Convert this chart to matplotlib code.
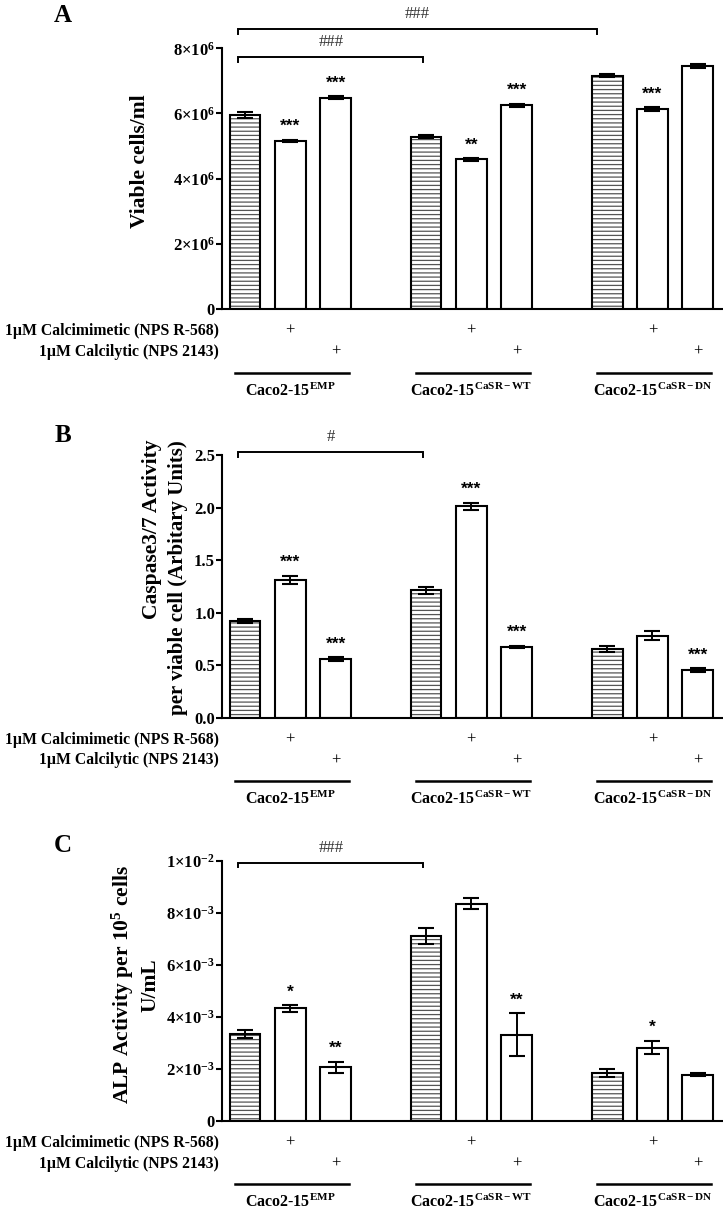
import matplotlib
matplotlib.use("Agg")
import matplotlib.pyplot as plt
import matplotlib.transforms as mtransforms
from matplotlib.ticker import FixedLocator, FixedFormatter

plt.rcParams['font.family'] = ['Liberation Serif', 'DejaVu Serif']
plt.rcParams['mathtext.fontset'] = 'custom'
plt.rcParams['mathtext.rm'] = 'Liberation Serif'
plt.rcParams['mathtext.bf'] = 'Liberation Serif:bold'
plt.rcParams['mathtext.it'] = 'Liberation Serif:italic'
plt.rcParams['hatch.linewidth'] = 0.9

# ---------------- data ----------------
groups = ["Caco2-15$^{\\mathbf{EMP}}$", "Caco2-15$^{\\mathbf{CaSR-WT}}$", "Caco2-15$^{\\mathbf{CaSR-DN}}$"]
conditions = ["control", "calcimimetic", "calcilytic"]
calcimimetic_row = ["", "+", ""]
calcilytic_row = ["", "", "+"]
row_labels = ["1\u00b5M Calcimimetic (NPS R-568)", "1\u00b5M Calcilytic (NPS 2143)"]

viable = [5.96e6, 5.15e6, 6.48e6, 5.29e6, 4.59e6, 6.25e6, 7.16e6, 6.14e6, 7.46e6]
viable_err = [0.10e6, 0.04e6, 0.05e6, 0.04e6, 0.04e6, 0.05e6, 0.05e6, 0.05e6, 0.07e6]
viable_stars = ["", "***", "***", "", "**", "***", "", "***", ""]

caspase = [0.92, 1.31, 0.557, 1.21, 2.01, 0.675, 0.65, 0.78, 0.452]
caspase_err = [0.02, 0.04, 0.015, 0.037, 0.035, 0.01, 0.03, 0.04, 0.015]
caspase_stars = ["", "***", "***", "", "***", "***", "", "", "***"]

alp = [3.33e-3, 4.32e-3, 2.05e-3, 7.10e-3, 8.35e-3, 3.31e-3, 1.83e-3, 2.81e-3, 1.77e-3]
alp_err = [0.15e-3, 0.13e-3, 0.22e-3, 0.32e-3, 0.20e-3, 0.83e-3, 0.15e-3, 0.26e-3, 0.05e-3]
alp_stars = ["", "*", "**", "", "", "**", "", "*", ""]

ticks_A = [0, 2e6, 4e6, 6e6, 8e6]
ticklabels_A = ["0", r"$\mathbf{2{\times}10^{6}}$", r"$\mathbf{4{\times}10^{6}}$",
                r"$\mathbf{6{\times}10^{6}}$", r"$\mathbf{8{\times}10^{6}}$"]
ticks_B = [0.0, 0.5, 1.0, 1.5, 2.0, 2.5]
ticklabels_B = ["0.0", "0.5", "1.0", "1.5", "2.0", "2.5"]
ticks_C = [0, 2e-3, 4e-3, 6e-3, 8e-3, 1e-2]
ticklabels_C = ["0", r"$\mathbf{2{\times}10^{-3}}$", r"$\mathbf{4{\times}10^{-3}}$",
                r"$\mathbf{6{\times}10^{-3}}$", r"$\mathbf{8{\times}10^{-3}}$", r"$\mathbf{1{\times}10^{-2}}$"]

# brackets: (x_start, x_end, height, label)
brackets_A = [(-0.15, 7.77, 8.58e6, "###"), (-0.15, 3.94, 7.72e6, "###")]
brackets_B = [(-0.15, 3.94, 2.526, "#")]
brackets_C = [(-0.15, 3.94, 9.92e-3, "###")]

# ---------------- layout ----------------
W, H = 723, 1212
fig = plt.figure(figsize=(W / 100, H / 100), dpi=100)


def fx(x):
    return x / W


def fy(y):
    return 1 - y / H


positions = []
for g in range(len(groups)):
    for c in range(len(conditions)):
        positions.append(g * 4 + c)

AX_LEFT, AX_RIGHT = 222, 723
panels = [
    dict(top=48.3, bottom=309.0, vals=viable, errs=viable_err, stars=viable_stars,
         ticks=ticks_A, labels=ticklabels_A, brackets=brackets_A, letter="A", ly=15),
    dict(top=455.0, bottom=717.5, vals=caspase, errs=caspase_err, stars=caspase_stars,
         ticks=ticks_B, labels=ticklabels_B, brackets=brackets_B, letter="B", ly=435),
    dict(top=860.7, bottom=1120.7, vals=alp, errs=alp_err, stars=alp_stars,
         ticks=ticks_C, labels=ticklabels_C, brackets=brackets_C, letter="C", ly=845),
]

for p in panels:
    ax = fig.add_axes([fx(AX_LEFT), fy(p["bottom"]), fx(AX_RIGHT - AX_LEFT),
                       (p["bottom"] - p["top"]) / H])
    ymax = p["ticks"][-1]
    ax.set_xlim(-0.51, 10.56)
    ax.set_ylim(0, ymax)
    for i, (x, v) in enumerate(zip(positions, p["vals"])):
        if i % 3 == 0:
            ax.bar(x, v, width=0.68, color="white", edgecolor="#555555", hatch="----",
                   linewidth=0, zorder=2)
        else:
            ax.bar(x, v, width=0.68, color="white", zorder=2, linewidth=0)
        ax.bar(x, v, width=0.68, fill=False, edgecolor="black", linewidth=1.5, zorder=3)
    ax.errorbar(positions, p["vals"], yerr=p["errs"], fmt="none", ecolor="black",
                elinewidth=1.4, capsize=5.5, capthick=1.5, zorder=4)
    for x, v, e, s in zip(positions, p["vals"], p["errs"], p["stars"]):
        if s:
            ax.annotate(s, (x, v + e), xytext=(0, 9.5), textcoords="offset points",
                        ha="center", va="center", fontsize=12.5, fontweight="bold",
                        family=["Liberation Sans", "DejaVu Sans"])
    drop = ymax * 0.017
    for x0, x1, h, lab in p["brackets"]:
        ax.plot([x0, x0, x1, x1], [h - drop, h, h, h - drop], color="black",
                lw=1.4, clip_on=False, solid_joinstyle="miter")
        ax.annotate(lab, ((x0 + x1) / 2, h), xytext=(0, 11), textcoords="offset points",
                    ha="center", va="center", fontsize=12, color="#333333",
                    annotation_clip=False)
    for side in ("top", "right"):
        ax.spines[side].set_visible(False)
    for side in ("left", "bottom"):
        ax.spines[side].set_linewidth(1.5)
    ax.yaxis.set_major_locator(FixedLocator(p["ticks"]))
    ax.yaxis.set_major_formatter(FixedFormatter(p["labels"]))
    ax.tick_params(axis="y", direction="out", length=4, width=1.5, pad=1, labelsize=12)
    for t in ax.get_yticklabels():
        t.set_fontweight("bold")
    ax.set_xticks([])
    ax.patch.set_alpha(0)

    # treatment rows and group labels
    trans = mtransforms.blended_transform_factory(ax.transData, fig.transFigure)
    b = p["bottom"]
    for r, (row, ry) in enumerate(zip([calcimimetic_row, calcilytic_row], [22, 43])):
        fig.text(fx(219), fy(b + ry), row_labels[r], ha="right", va="center",
                 fontsize=11.3, fontweight="bold")
        for g in range(len(groups)):
            for c in range(len(conditions)):
                if row[c]:
                    ax.text(g * 4 + c, fy(b + ry), row[c], transform=trans,
                            ha="center", va="center", fontsize=12)
    for g, name in enumerate(groups):
        ax.plot([g * 4 - 0.22, g * 4 + 2.3], [fy(b + 63.5)] * 2, transform=trans,
                color="black", lw=1.8, clip_on=False)
        ax.text(g * 4 + 1, fy(b + 82), name, transform=trans, ha="center", va="center",
                fontsize=11.5, fontweight="bold")

    fig.text(fx(63), fy(p["ly"]), p["letter"], ha="center", va="center",
             fontsize=18, fontweight="bold")

# y-axis labels
fig.text(fx(140), fy(161.5), "Viable cells/ml", rotation=90, ha="center", va="center",
         fontsize=15.5, fontweight="bold")
fig.text(fx(152), fy(440), "Caspase3/7 Activity", rotation=90, ha="center", va="top",
         fontsize=15.5, fontweight="bold")
fig.text(fx(178), fy(440), "per viable cell (Arbitary Units)", rotation=90, ha="center",
         va="top", fontsize=15, fontweight="bold")
fig.text(fx(123), fy(985), "ALP Activity per 10$^{\\mathbf{5}}$ cells", rotation=90,
         ha="center", va="center", fontsize=15.5, fontweight="bold")
fig.text(fx(150), fy(985), "U/mL", rotation=90, ha="center", va="center",
         fontsize=15.5, fontweight="bold")

fig.savefig("out.png", dpi=100)
